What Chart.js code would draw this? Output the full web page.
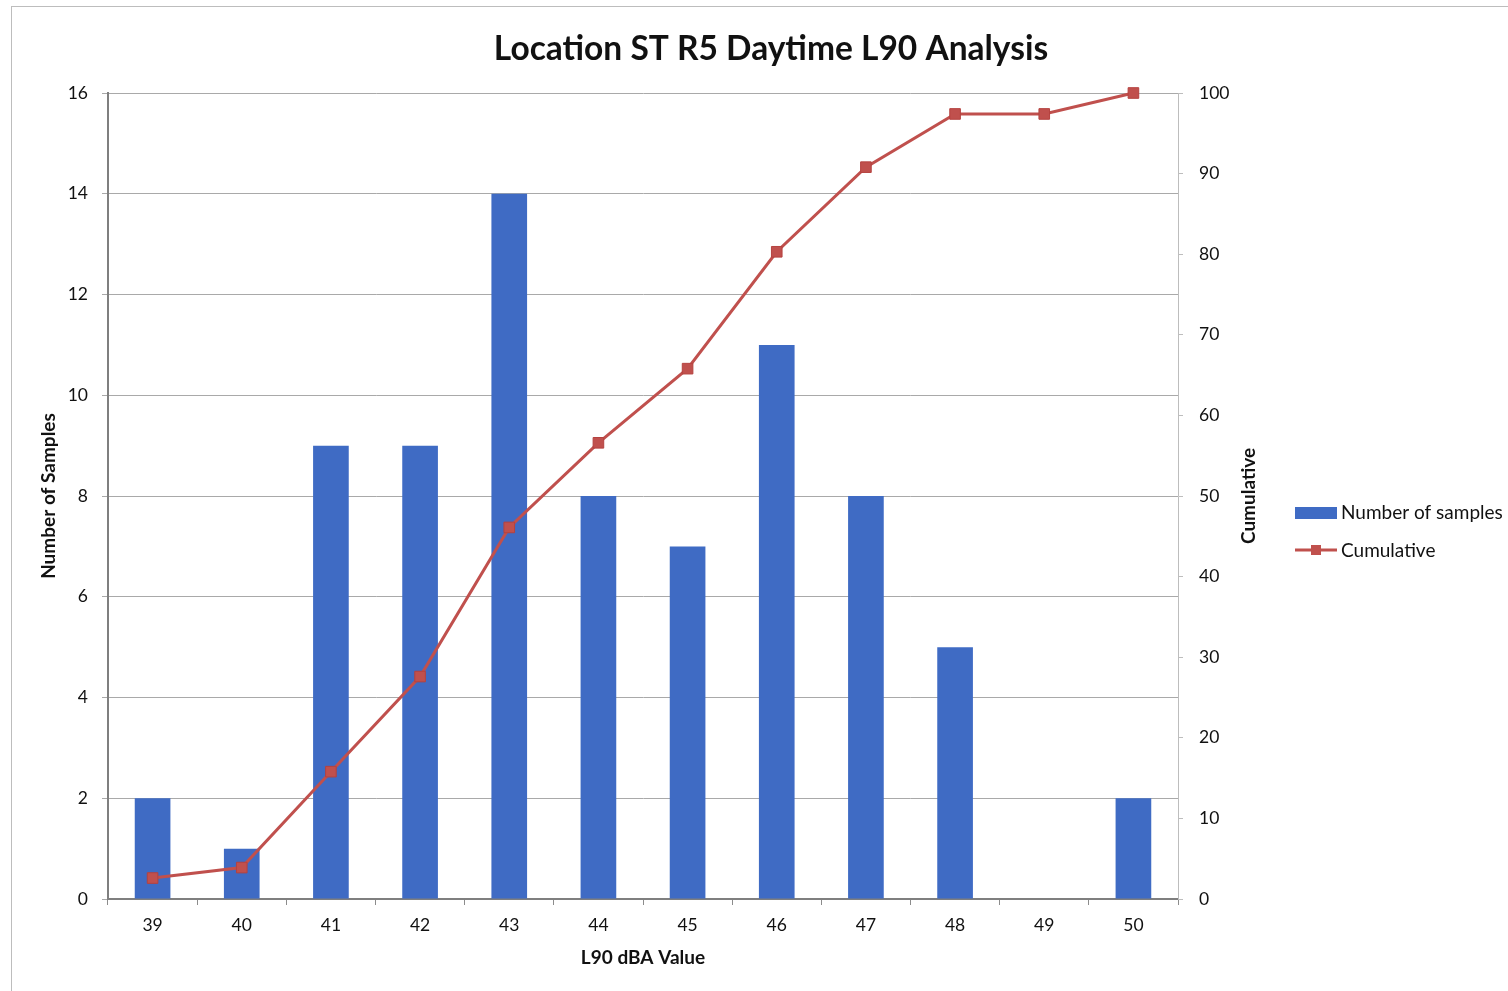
<!DOCTYPE html>
<html>
<head>
<meta charset="utf-8">
<script src="https://cdn.jsdelivr.net/npm/chart.js@4.4.1/dist/chart.umd.min.js"></script>
<style>
  html, body { margin: 0; padding: 0; background: #fff; }
  canvas { display: block; }
</style>
</head>
<body>
<canvas id="chart" width="1508" height="991"></canvas>
<script>
const categories = ['39', '40', '41', '42', '43', '44', '45', '46', '47', '48', '49', '50'];
const sampleCounts = [2, 1, 9, 9, 14, 8, 7, 11, 8, 5, 0, 2];
const cumulativePct = [2.6, 3.9, 15.8, 27.6, 46.1, 56.6, 65.8, 80.3, 90.8, 97.4, 97.4, 100];
const countAxis = [0, 16, 2];      // min, max, step
const cumulativeAxis = [0, 100, 10];

const FONT = 'Lato, "Open Sans", sans-serif';
const BAR_BLUE = '#3f6bc4';
const LINE_RED = '#c0504d';

// title, right axis title, legend and the outer frame
const decorations = {
  id: 'decorations',
  afterDraw(chart) {
    const ctx = chart.ctx;
    ctx.save();
    ctx.strokeStyle = '#bdbdbd';
    ctx.lineWidth = 1;
    ctx.strokeRect(11.5, 6.5, 1600, 1100);

    ctx.fillStyle = '#111';
    ctx.font = 'bold 33.5px ' + FONT;
    ctx.textAlign = 'center';
    ctx.textBaseline = 'middle';
    ctx.fillText('Location ST R5 Daytime L90 Analysis', 771, 49);

    ctx.save();
    ctx.translate(1249, 496);
    ctx.rotate(-Math.PI / 2);
    ctx.font = 'bold 19px ' + FONT;
    ctx.fillText('Cumulative', 0, 0);
    ctx.restore();

    // legend
    const lx = 1295;
    ctx.fillStyle = BAR_BLUE;
    ctx.fillRect(lx, 507, 42, 12);
    ctx.strokeStyle = LINE_RED;
    ctx.lineWidth = 3;
    ctx.beginPath();
    ctx.moveTo(lx, 550);
    ctx.lineTo(lx + 42, 550);
    ctx.stroke();
    ctx.fillStyle = LINE_RED;
    ctx.fillRect(lx + 16, 545, 10, 10);

    ctx.fillStyle = '#111';
    ctx.font = '19px ' + FONT;
    ctx.textAlign = 'left';
    ctx.fillText(chart.data.datasets[0].label, lx + 46, 513);
    ctx.fillText(chart.data.datasets[1].label, lx + 46, 551);
    ctx.restore();
  }
};

const whiteBg = {
  id: 'whiteBg',
  beforeDraw(chart) {
    const ctx = chart.ctx;
    ctx.save();
    ctx.fillStyle = '#fff';
    ctx.fillRect(0, 0, chart.width, chart.height);
    ctx.restore();
  }
};

new Chart(document.getElementById('chart'), {
  type: 'bar',
  data: {
    labels: categories,
    datasets: [{
      type: 'bar',
      label: 'Number of samples',
      data: sampleCounts,
      yAxisID: 'y',
      backgroundColor: BAR_BLUE,
      barPercentage: 0.4,
      categoryPercentage: 1,
      order: 2
    }, {
      type: 'line',
      label: 'Cumulative',
      data: cumulativePct,
      yAxisID: 'y1',
      borderColor: LINE_RED,
      borderWidth: 3,
      pointStyle: 'rect',
      pointRadius: 7.5,
      pointBackgroundColor: LINE_RED,
      pointBorderColor: '#b5423f',
      pointBorderWidth: 1,
      tension: 0,
      clip: false,
      order: 1
    }]
  },
  options: {
    responsive: false,
    animation: false,
    layout: { padding: { top: 93, left: 0, right: 0, bottom: 0 } },
    plugins: {
      legend: { display: false },
      title: { display: false },
      tooltip: { enabled: false }
    },
    scales: {
      x: {
        afterFit(scale) { scale.height = 92; },
        grid: { drawOnChartArea: false, offset: true, tickLength: 6, color: '#8c8c8c' },
        border: { color: '#7f7f7f', width: 2 },
        ticks: { color: '#111', font: { family: FONT, size: 17.5 }, padding: 10, maxRotation: 0 },
        title: {
          display: true,
          text: 'L90 dBA Value',
          color: '#111',
          font: { family: FONT, size: 19, weight: 'bold' },
          padding: { top: 0, bottom: 22 }
        }
      },
      y: {
        position: 'left',
        min: countAxis[0],
        max: countAxis[1],
        afterFit(scale) { scale.width = 108; },
        ticks: { stepSize: countAxis[2], color: '#111', font: { family: FONT, size: 17.5 }, padding: 14 },
        grid: { color: '#a9a9a9', tickLength: 6, lineWidth: 1 },
        border: { color: '#7f7f7f', width: 2 },
        title: {
          display: true,
          text: 'Number of Samples',
          color: '#111',
          font: { family: FONT, size: 19, weight: 'bold' },
          padding: { top: 37, bottom: 0 }
        }
      },
      y1: {
        position: 'right',
        min: cumulativeAxis[0],
        max: cumulativeAxis[1],
        afterFit(scale) { scale.width = 330; },
        ticks: { stepSize: cumulativeAxis[2], color: '#111', font: { family: FONT, size: 17.5 }, padding: 16 },
        grid: { drawOnChartArea: false, tickLength: 5, color: '#bdbdbd' },
        border: { color: '#bdbdbd', width: 1 }
      }
    }
  },
  plugins: [whiteBg, decorations]
});
</script>
</body>
</html>
